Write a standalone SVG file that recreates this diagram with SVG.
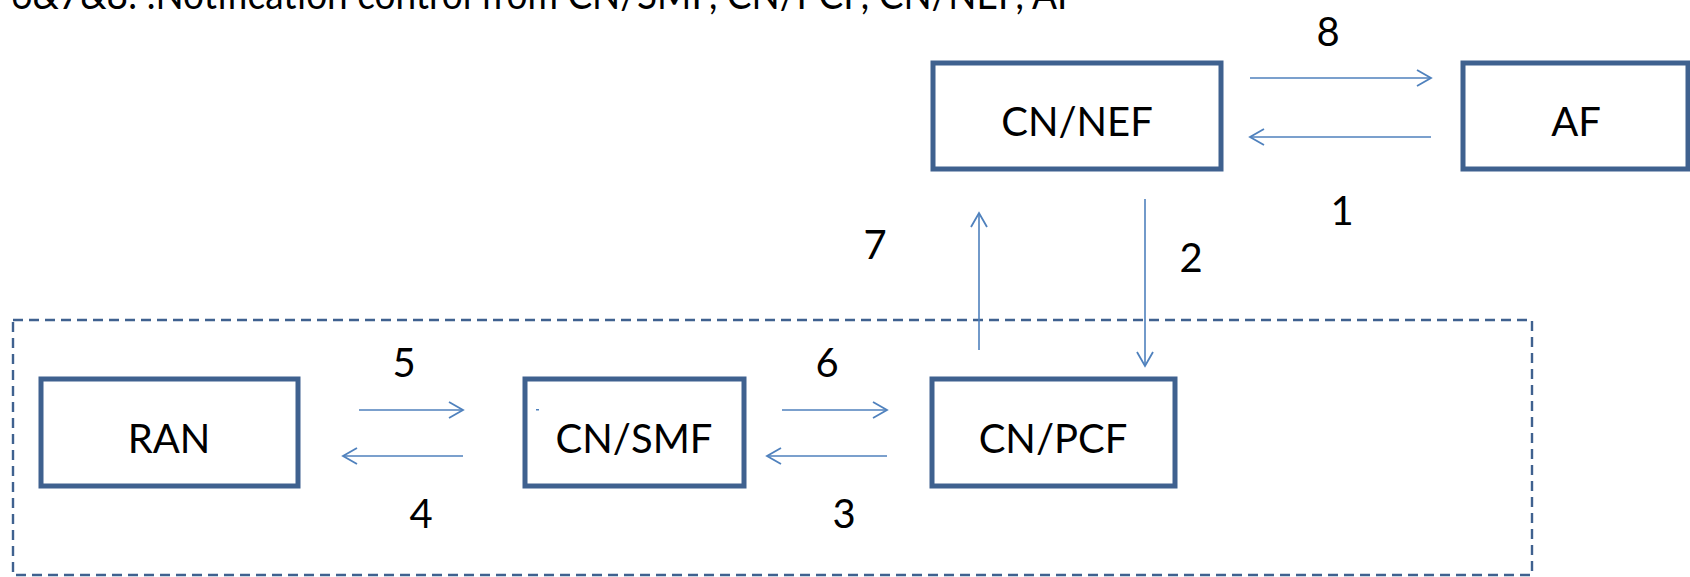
<svg xmlns="http://www.w3.org/2000/svg" width="1690" height="577" viewBox="0 0 1690 577">
<style>
.box{fill:#fff;stroke:#3F618F;stroke-width:5}
.lbl{font-family:Lato,"Liberation Sans",sans-serif;font-size:40px;fill:#000}
.c{stroke:#4F81BD;stroke-width:1.6;fill:none;marker-end:url(#ah)}
</style>
<defs>
<marker id="ah" markerUnits="userSpaceOnUse" markerWidth="20" markerHeight="20" viewBox="-16 -10 20 20" refX="0" refY="0" orient="auto">
<path d="M-14,-8 L0,0 L-14,8" fill="none" stroke="#4F81BD" stroke-width="1.8"/>
</marker>
</defs>
<rect width="1690" height="577" fill="#fff"/>
<text class="lbl" x="11" y="9" textLength="1067" lengthAdjust="spacingAndGlyphs">6&amp;7&amp;8: .Notification control from CN/SMF, CN/PCF, CN/NEF, AF</text>
<rect x="13" y="320" width="1519" height="255" fill="none" stroke="#3F618F" stroke-width="2.4" stroke-dasharray="10,6"/>
<g id="nef"><rect class="box" x="933" y="63" width="288" height="106"/><text class="lbl" x="1077" y="136" text-anchor="middle">CN/NEF</text></g>
<g id="af"><rect class="box" x="1463" y="63" width="225" height="106"/><text class="lbl" x="1576" y="136" text-anchor="middle">AF</text></g>
<g id="ran"><rect class="box" x="41" y="379" width="257" height="107"/><text class="lbl" x="169" y="453" text-anchor="middle">RAN</text></g>
<g id="smf"><rect class="box" x="525" y="379" width="219" height="107"/><text class="lbl" x="634" y="453" text-anchor="middle">CN/SMF</text><rect x="536" y="409" width="3" height="1.5" fill="#4F81BD"/></g>
<g id="pcf"><rect class="box" x="932" y="379" width="243" height="107"/><text class="lbl" x="1053" y="453" text-anchor="middle">CN/PCF</text></g>
<g id="connectors">
<line class="c" x1="1250" y1="78" x2="1431" y2="78"/>
<line class="c" x1="1431" y1="137" x2="1250" y2="137"/>
<line class="c" x1="979" y1="350" x2="979" y2="213"/>
<line class="c" x1="1145" y1="199" x2="1145" y2="366"/>
<line class="c" x1="359" y1="410" x2="463" y2="410"/>
<line class="c" x1="463" y1="456" x2="343" y2="456"/>
<line class="c" x1="782" y1="410" x2="887" y2="410"/>
<line class="c" x1="887" y1="456" x2="767" y2="456"/>
</g>
<g id="labels">
<text class="lbl" x="1328" y="46" text-anchor="middle">8</text>
<text class="lbl" x="1342" y="225" text-anchor="middle">1</text>
<text class="lbl" x="875" y="259" text-anchor="middle">7</text>
<text class="lbl" x="1191" y="272" text-anchor="middle">2</text>
<text class="lbl" x="404" y="377" text-anchor="middle">5</text>
<text class="lbl" x="421" y="528" text-anchor="middle">4</text>
<text class="lbl" x="827" y="377" text-anchor="middle">6</text>
<text class="lbl" x="844" y="528" text-anchor="middle">3</text>
</g>
</svg>
